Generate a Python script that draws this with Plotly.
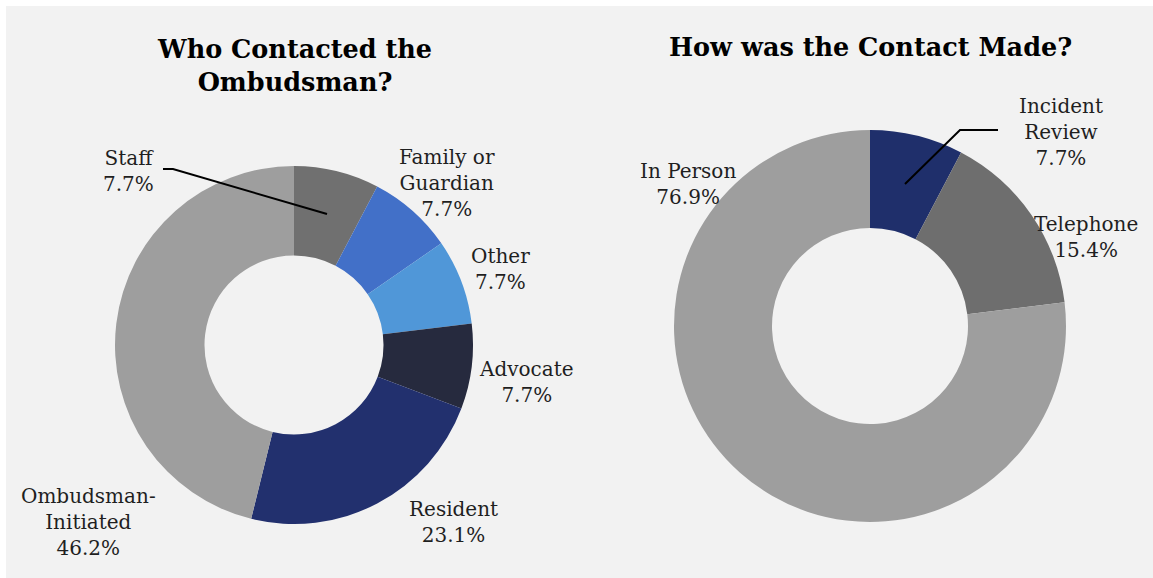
import plotly.graph_objects as go

W, H = 1153, 578

# Who contacted the Ombudsman (case counts)
who_labels = ["Staff", "Family or Guardian", "Other", "Advocate", "Resident", "Ombudsman-Initiated"]
who_text = ["Staff", "Family or<br>Guardian", "Other", "Advocate", "Resident", "Ombudsman-<br>Initiated"]
who_values = [1, 1, 1, 1, 3, 6]
who_colors = ["#707070", "#4270c8", "#5097d8", "#262a3e", "#22306e", "#9e9e9e"]

# How the contact was made (case counts)
how_labels = ["Incident Review", "Telephone", "In Person"]
how_text = ["Incident<br>Review", "Telephone", "In Person"]
how_values = [1, 2, 10]
how_colors = ["#1f2f6b", "#6e6e6e", "#9e9e9e"]

BG = "#f2f2f2"
FONT = "DejaVu Serif"
TXT = "#1f1f1f"


def px(x, y):
    return x / W, 1 - y / H


def dom(cx, cy, r):
    x0, y1 = px(cx - r, cy - r)
    x1, y0 = px(cx + r, cy + r)
    return dict(x=[x0, x1], y=[y0, y1])


fig = go.Figure()
fig.add_trace(go.Pie(
    labels=who_labels, values=who_values, sort=False, direction="clockwise",
    rotation=0, hole=0.5, textinfo="none", hoverinfo="label+percent",
    marker=dict(colors=who_colors, line=dict(width=0)),
    domain=dom(294, 345, 179), showlegend=False,
))
fig.add_trace(go.Pie(
    labels=how_labels, values=how_values, sort=False, direction="clockwise",
    rotation=0, hole=0.5, textinfo="none", hoverinfo="label+percent",
    marker=dict(colors=how_colors, line=dict(width=0)),
    domain=dom(870, 326, 196), showlegend=False,
))


def pct(values):
    total = sum(values)
    return [f"{100 * v / total:.1f}%" for v in values]


annotations = []
who_pos = [(128, 171), (447, 183), (500, 269), (526, 382), (453, 522), (88, 522)]
how_pos = [(1061, 132), (1086, 237), (688, 184)]
for txt, p, (x, y) in zip(who_text + how_text, pct(who_values) + pct(how_values), who_pos + how_pos):
    ax, ay = px(x, y)
    annotations.append(dict(
        x=ax, y=ay, xref="paper", yref="paper", xanchor="center", yanchor="middle",
        text=f"{txt}<br>{p}", showarrow=False, align="center",
        font=dict(family=FONT, size=20, color=TXT),
    ))

for title, (x, y) in [("Who Contacted the<br>Ombudsman?", (294, 65)),
                      ("How was the Contact Made?", (870, 47))]:
    ax, ay = px(x, y)
    annotations.append(dict(
        x=ax, y=ay, xref="paper", yref="paper", xanchor="center", yanchor="middle",
        text=f"<b>{title}</b>", showarrow=False, align="center",
        font=dict(family=FONT, size=25.5, color="#000000"),
    ))


def leader(points):
    pts = [px(x, y) for x, y in points]
    d = "M " + " L ".join(f"{a:.5f},{b:.5f}" for a, b in pts)
    return dict(type="path", xref="paper", yref="paper", path=d,
                line=dict(color="#000000", width=2))


shapes = [
    dict(type="rect", xref="paper", yref="paper", x0=0, x1=1, y0=1 - 6 / H, y1=1,
         fillcolor="#ffffff", line=dict(width=0), layer="below"),
    dict(type="rect", xref="paper", yref="paper", x0=0, x1=6 / W, y0=0, y1=1,
         fillcolor="#ffffff", line=dict(width=0), layer="below"),
    leader([(163, 169), (173, 169), (327, 214)]),
    leader([(905, 184), (960, 130), (998, 130)]),
]

fig.update_layout(
    width=W, height=H, margin=dict(l=0, r=0, t=0, b=0),
    paper_bgcolor=BG, plot_bgcolor=BG,
    annotations=annotations, shapes=shapes,
)

fig.write_html("out.html")
